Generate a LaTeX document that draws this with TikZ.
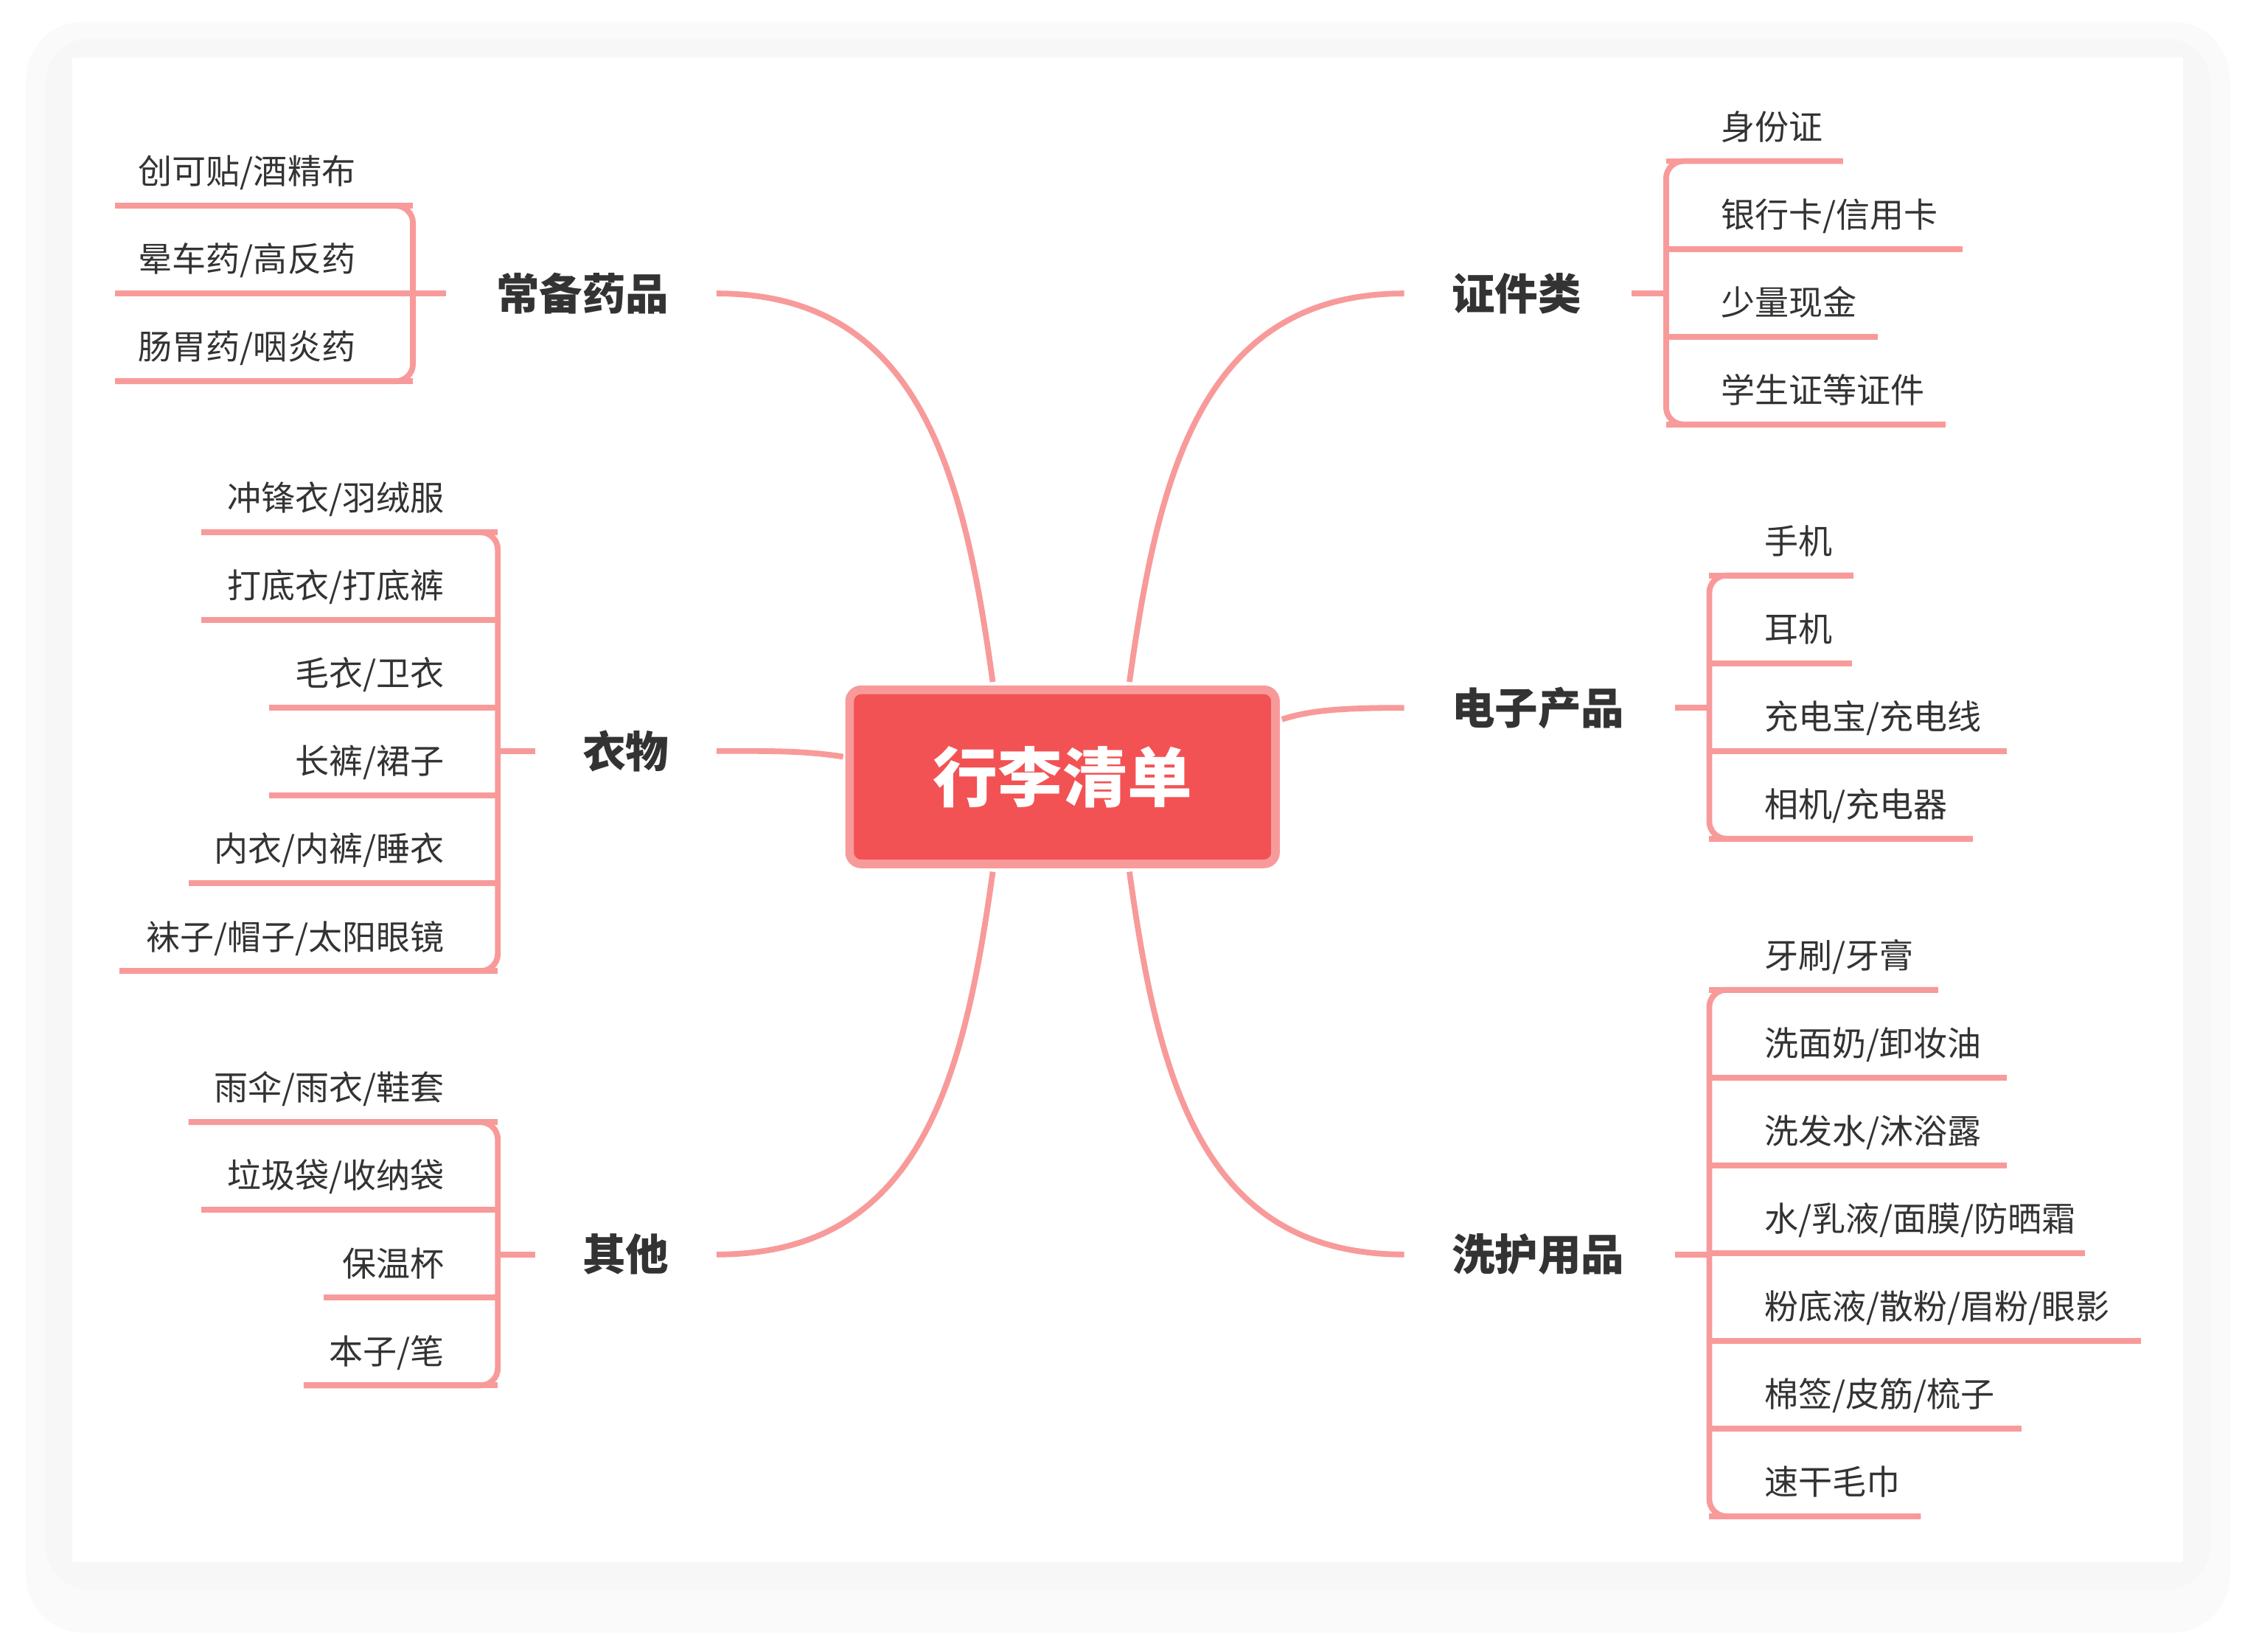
\documentclass[tikz,border=0pt]{standalone}
\usepackage{fontspec}
\setmainfont{Noto Sans CJK SC}
\begin{document}
\begin{tikzpicture}[x=1pt,y=-1pt,
  lk/.style={draw=linkc,line width=4pt,rounded corners=12pt},
  item/.style={font=\fontsize{23.6}{26}\selectfont,text=txt,inner sep=0pt},
  cat/.style={font=\fontsize{30}{32}\selectfont\bfseries,text=txt,inner sep=0pt}]
\definecolor{linkc}{HTML}{F89A9A}
\definecolor{txt}{HTML}{333333}
\definecolor{mainr}{HTML}{F35254}
\useasboundingbox (0,0) rectangle (1568,1148);
\fill[black!2,rounded corners=40pt] (18,15) rectangle (1550,1135);
\fill[black!3,rounded corners=30pt] (32,27) rectangle (1536,1105);
\fill[white] (50,40) rectangle (1517,1086);
% centre
\node[draw=linkc,line width=6pt,fill=mainr,rounded corners=8pt,minimum width=296pt,minimum height=121pt,
  text=white,font=\fontsize{45}{48}\selectfont\bfseries] (root) at (738.5,540) {行李清单};
% categories
\node[cat] (c1) at (405,204) {常备药品};
\node[cat] (c2) at (435,522) {衣物};
\node[cat] (c3) at (435,872) {其他};
\node[cat] (c4) at (1054,204) {证件类};
\node[cat] (c5) at (1069,492) {电子产品};
\node[cat] (c6) at (1069,872) {洗护用品};
\coordinate (a1) at (498,204); \coordinate (a2) at (498,522); \coordinate (a3) at (498,872);
\coordinate (a4) at (976,204); \coordinate (a5) at (976,492); \coordinate (a6) at (976,872);
\coordinate (r1) at (690,474); \coordinate (r2) at (586,526); \coordinate (r3) at (690,606);
\coordinate (r4) at (785,474); \coordinate (r5) at (891,500); \coordinate (r6) at (785,606);
\draw[lk] (a1) .. controls (640,204) and (670,330) .. (r1);
\draw[lk] (a2) .. controls (540,522) and (560,522) .. (r2);
\draw[lk] (a3) .. controls (640,872) and (670,750) .. (r3);
\draw[lk] (a4) .. controls (835,204) and (805,330) .. (r4);
\draw[lk] (a5) .. controls (930,492) and (910,494) .. (r5);
\draw[lk] (a6) .. controls (835,872) and (805,750) .. (r6);
% group 1 (left, left-aligned)
\foreach \t/\y [count=\i] in {{创可贴/酒精布}/143,{晕车药/高反药}/204,{肠胃药/咽炎药}/265}
  {\node[item,anchor=base west] (g1\i) at (96,\y-15) {\t}; \draw[lk] (80,\y) -- (287,\y);}
\draw[lk] (80,143) -- (287,143) -- (287,265) -- (80,265);
\draw[lk] (287,204) -- (310,204);
% group 2
\foreach \t/\y/\l [count=\i] in {{冲锋衣/羽绒服}/370/140,{打底衣/打底裤}/431/140,{毛衣/卫衣}/492/187,{长裤/裙子}/553/187,{内衣/内裤/睡衣}/614/131,{袜子/帽子/太阳眼镜}/675/83}
  {\node[item,anchor=base east] (g2\i) at (309,\y-15) {\t}; \draw[lk] (\l,\y) -- (346,\y);}
\draw[lk] (140,370) -- (346,370) -- (346,675) -- (83,675);
\draw[lk] (346,522) -- (372,522);
% group 3
\foreach \t/\y/\l [count=\i] in {{雨伞/雨衣/鞋套}/780/131,{垃圾袋/收纳袋}/841/140,{保温杯}/902/225,{本子/笔}/963/211}
  {\node[item,anchor=base east] (g3\i) at (309,\y-15) {\t}; \draw[lk] (\l,\y) -- (346,\y);}
\draw[lk] (131,780) -- (346,780) -- (346,963) -- (211,963);
\draw[lk] (346,872) -- (372,872);
% group 4
\foreach \t/\y/\r [count=\i] in {{身份证}/112/1281,{银行卡/信用卡}/173/1364,{少量现金}/234/1305,{学生证等证件}/295/1352}
  {\node[item,anchor=base west] (g4\i) at (1196,\y-15) {\t}; \draw[lk] (1158,\y) -- (\r,\y);}
\draw[lk] (1281,112) -- (1158,112) -- (1158,295) -- (1352,295);
\draw[lk] (1134,204) -- (1158,204);
% group 5
\foreach \t/\y/\r [count=\i] in {{手机}/400/1288,{耳机}/461/1287,{充电宝/充电线}/522/1395,{相机/充电器}/583/1371}
  {\node[item,anchor=base west] (g5\i) at (1226,\y-15) {\t}; \draw[lk] (1188,\y) -- (\r,\y);}
\draw[lk] (1288,400) -- (1188,400) -- (1188,583) -- (1371,583);
\draw[lk] (1164,492) -- (1188,492);
% group 6
\foreach \t/\y/\r [count=\i] in {{牙刷/牙膏}/688/1347,{洗面奶/卸妆油}/749/1395,{洗发水/沐浴露}/810/1395,{水/乳液/面膜/防晒霜}/871/1449,{粉底液/散粉/眉粉/眼影}/932/1488,{棉签/皮筋/梳子}/993/1405,{速干毛巾}/1054/1335}
  {\node[item,anchor=base west] (g6\i) at (1226,\y-15) {\t}; \draw[lk] (1188,\y) -- (\r,\y);}
\draw[lk] (1347,688) -- (1188,688) -- (1188,1054) -- (1335,1054);
\draw[lk] (1164,872) -- (1188,872);
\end{tikzpicture}
\end{document}
